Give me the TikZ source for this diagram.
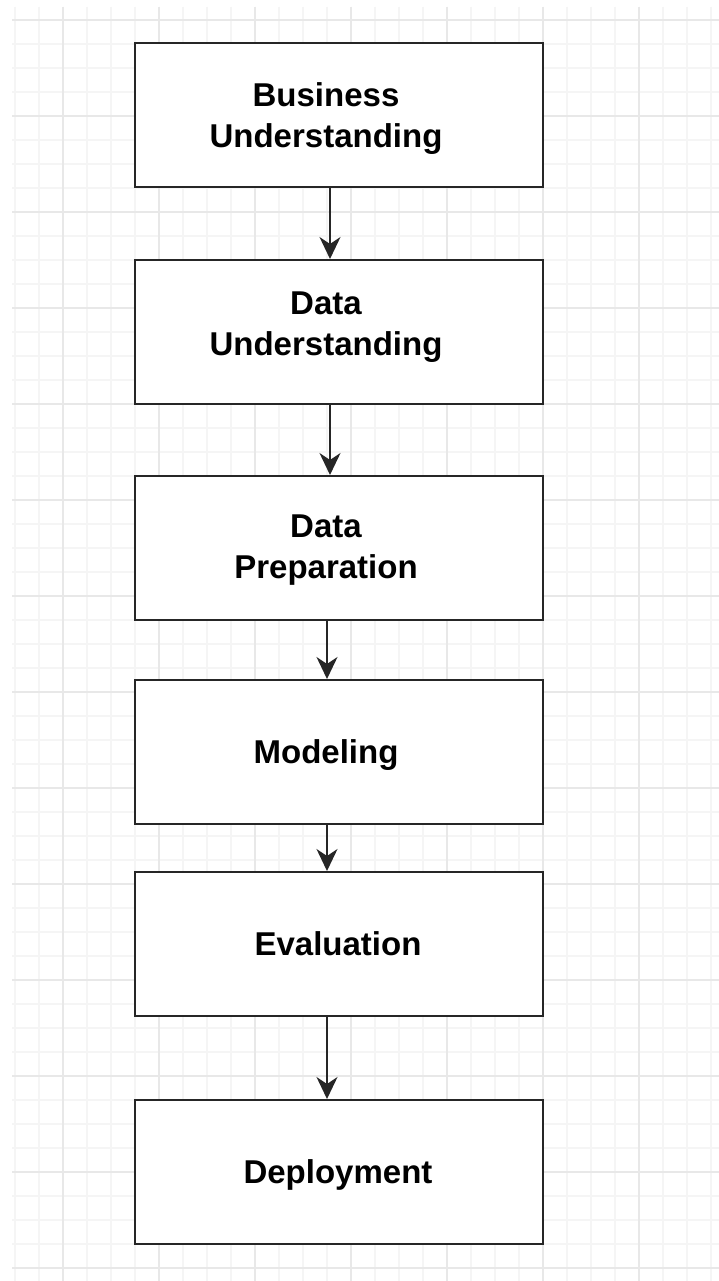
\documentclass[tikz,border=0pt]{standalone}
\usepackage{fontspec}
\setmainfont{Liberation Sans}
\usetikzlibrary{arrows.meta}

\begin{document}
\begin{tikzpicture}[x=1pt, y=-1pt, >={Stealth[length=22pt, width=21pt, inset=7pt]},
  phase/.style={draw=black!85, line width=2pt, fill=white, minimum width=408pt, minimum height=144pt, inner sep=0pt},
  phasetext/.style={font=\fontsize{33}{41}\selectfont\bfseries, align=center, inner sep=0pt, anchor=base},
  flow/.style={->, black!85, line width=1.8pt}]
  \useasboundingbox (0,0) rectangle (719,1281);
  \fill[white] (0,0) rectangle (719,1281);
  % ---------- background grid ----------
  \begin{scope}
    \clip (12,7) rectangle (719,1281);
    \foreach \x in {15,39,...,711} \draw[black!4, line width=1.2pt] (\x,7) -- (\x,1281);
    \foreach \y in {20,44,...,1268} \draw[black!4, line width=1.2pt] (12,\y) -- (719,\y);
    \foreach \x in {63,159,...,639} \draw[black!9, line width=1.2pt] (\x,7) -- (\x,1281);
    \foreach \y in {20,116,...,1268} \draw[black!9, line width=1.2pt] (12,\y) -- (719,\y);
  \end{scope}
  % ---------- phases ----------
  \node[phase] (business) at (339,115.5) {};
  \node[phase] (data) at (339,332) {};
  \node[phase] (prep) at (339,548) {};
  \node[phase] (model) at (339,752) {};
  \node[phase] (eval) at (339,944) {};
  \node[phase] (deploy) at (339,1172) {};
  % second line sits on the given baseline
  \node[phasetext] (business-t) at (326,148) {Business\\Understanding};
  \node[phasetext] (data-t) at (326,355) {Data\\Understanding};
  \node[phasetext] (prep-t) at (326,578) {Data\\Preparation};
  \node[phasetext] (model-t) at (326,763) {Modeling};
  \node[phasetext] (eval-t) at (338,955) {Evaluation};
  \node[phasetext] (deploy-t) at (338,1183) {Deployment};
  % ---------- flow ----------
  \draw[flow] ([xshift=-9pt]business.south) -- ([xshift=-9pt]data.north);
  \draw[flow] ([xshift=-9pt]data.south) -- ([xshift=-9pt]prep.north);
  \draw[flow] ([xshift=-12pt]prep.south) -- ([xshift=-12pt]model.north);
  \draw[flow] ([xshift=-12pt]model.south) -- ([xshift=-12pt]eval.north);
  \draw[flow] ([xshift=-12pt]eval.south) -- ([xshift=-12pt]deploy.north);
\end{tikzpicture}
\end{document}
